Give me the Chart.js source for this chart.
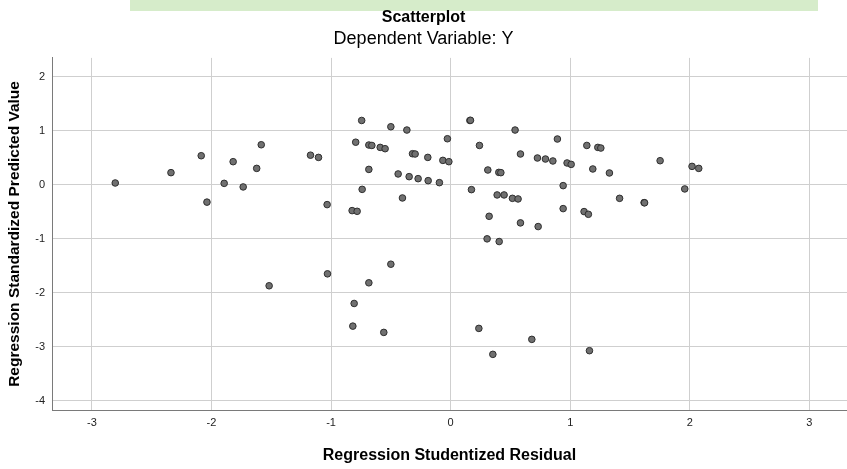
<!DOCTYPE html>
<html>
<head>
<meta charset="utf-8">
<script src="https://cdn.jsdelivr.net/npm/chart.js@4/dist/chart.umd.min.js"></script>
<style>
  html, body { margin: 0; padding: 0; background: #fff; }
  #wrap { width: 847px; height: 469px; }
</style>
</head>
<body>
<div id="wrap"><canvas id="scatter"></canvas></div>
<script>
// Residuos estudentizados (eje X) y valores pronosticados tipificados (eje Y)
const residuos = [
  -2.805, -2.339, -2.086, -2.038, -1.894, -1.819, -1.735, -1.622, -1.584, -1.172,
  -1.105, -1.033, -0.824, -0.782, -0.794, -0.744, -0.740, -0.684, -0.684, -0.659,
  -0.589, -0.548, -0.500, -0.439, -0.403, -0.366, -0.347, -0.319, -0.297, -0.272,
  -0.191, -0.188, -0.094, -0.065, -0.015, -0.027, 0.161, 0.166, 0.174, 0.241,
  0.311, 0.322, 0.305, 0.406, 0.403, 0.420, 0.389, 0.447, 0.517, 0.564,
  0.539, 0.584, 0.584, 0.726, 0.732, 0.793, 0.855, 0.893, 0.941, 0.941,
  0.974, 1.008, 1.116, 1.152, 1.139, 1.189, 1.231, 1.256, 1.328, 1.413,
  1.618, 1.622, 1.752, 1.958, 2.019, 2.075,
  -1.518, -1.030, -0.684, -0.500, -0.807, -0.818, -0.559, 0.236, 0.679, 0.353, 1.161
];
const pronosticados = [
  0.031, 0.222, 0.535, -0.323, 0.024, 0.425, -0.042, 0.301, 0.738, 0.545,
  0.504, -0.369, -0.480, -0.493, 0.785, 1.187, -0.087, 0.282, 0.733, 0.725,
  0.689, 0.665, 1.071, 0.198, -0.246, 1.010, 0.148, 0.572, 0.567, 0.111,
  0.504, 0.074, 0.037, 0.449, 0.425, 0.849, 1.187, 1.190, -0.092, 0.725,
  0.271, -0.585, -1.002, -1.052, 0.227, 0.222, -0.190, -0.190, -0.253, -0.264,
  1.010, 0.567, -0.707, 0.493, -0.775, 0.474, 0.438, 0.844, -0.018, -0.443,
  0.401, 0.375, -0.498, -0.548, 0.725, 0.290, 0.689, 0.677, 0.216, -0.253,
  -0.332, -0.336, 0.443, -0.079, 0.338, 0.301,
  -1.870, -1.649, -1.815, -1.471, -2.197, -2.616, -2.732, -2.658, -2.861, -3.138, -3.070
];
const ticksX = [-3, -2, -1, 0, 1, 2, 3];
const ticksY = [-4, -3, -2, -1, 0, 1, 2];

const puntos = residuos.map((x, i) => ({ x: x, y: pronosticados[i] }));

const fuente = "'Liberation Sans', Arial, sans-serif";

// franja verde pálida del sello que asoma arriba
const franjaSello = {
  id: 'franjaSello',
  beforeDraw(chart) {
    const ctx = chart.ctx;
    ctx.save();
    ctx.fillStyle = '#d6ecca';
    ctx.fillRect(130, 0, 688, 11);
    ctx.restore();
  }
};

new Chart(document.getElementById('scatter'), {
  type: 'scatter',
  data: {
    datasets: [{
      data: puntos,
      pointRadius: 3.3,
      pointHoverRadius: 3.3,
      backgroundColor: '#707070',
      borderColor: '#2e2e2e',
      borderWidth: 1
    }]
  },
  options: {
    responsive: true,
    maintainAspectRatio: false,
    animation: false,
    layout: { padding: 0, autoPadding: false },
    plugins: {
      legend: { display: false },
      tooltip: { enabled: false },
      title: {
        display: true,
        text: 'Scatterplot',
        color: '#000',
        font: { family: fuente, size: 16, weight: 'bold' },
        padding: { top: 8.4, bottom: 0 }
      },
      subtitle: {
        display: true,
        text: 'Dependent Variable: Y',
        color: '#000',
        font: { family: fuente, size: 18, weight: 'normal' },
        padding: { top: 0.5, bottom: 8.2 }
      }
    },
    scales: {
      x: {
        type: 'linear',
        min: -3.334,
        max: 3.315,
        afterFit: s => { s.height = 59; s.paddingLeft = 0; s.paddingRight = 0; },
        afterBuildTicks: s => { s.ticks = ticksX.map(v => ({ value: v })); },
        grid: { color: '#cfcfcf', drawTicks: false },
        border: { color: '#7a7a7a', width: 1 },
        ticks: {
          color: '#222',
          padding: 6,
          font: { family: fuente, size: 11 }
        },
        title: {
          display: true,
          text: 'Regression Studentized Residual',
          color: '#000',
          font: { family: fuente, size: 16, weight: 'bold' },
          padding: { top: 0, bottom: 3.4 }
        }
      },
      y: {
        type: 'linear',
        min: -4.167,
        max: 2.344,
        afterFit: s => { s.width = 52; s.paddingTop = 0; s.paddingBottom = 0; },
        afterBuildTicks: s => { s.ticks = ticksY.map(v => ({ value: v })); },
        grid: { color: '#cfcfcf', drawTicks: false },
        border: { color: '#7a7a7a', width: 1 },
        ticks: {
          color: '#222',
          padding: 7,
          font: { family: fuente, size: 11 }
        },
        title: {
          display: true,
          text: 'Regression Standardized Predicted Value',
          color: '#000',
          font: { family: fuente, size: 15.5, weight: 'bold' },
          padding: { top: 5.2, bottom: 0 }
        }
      }
    }
  },
  plugins: [franjaSello]
});
</script>
</body>
</html>
